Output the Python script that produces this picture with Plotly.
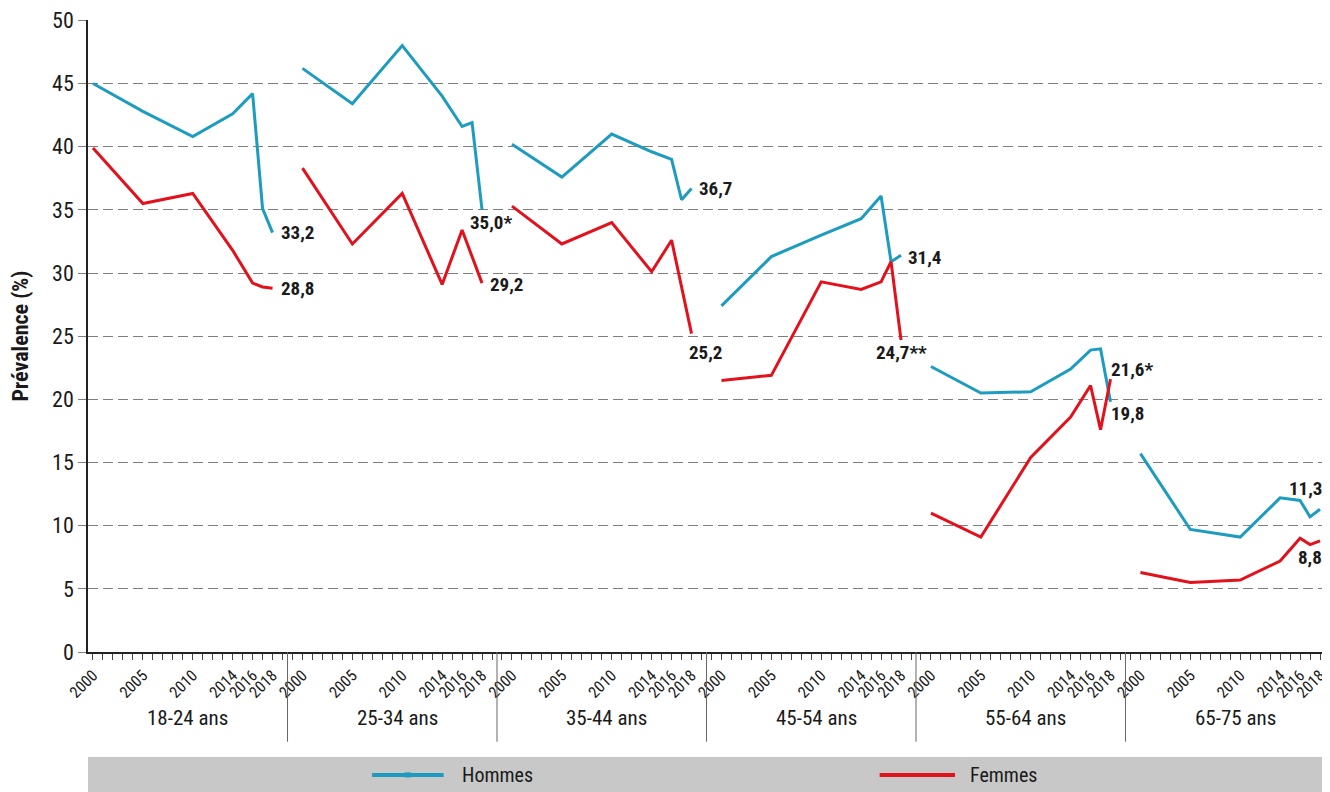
import plotly.graph_objects as go

# ---------------- data ----------------
groups = ["18-24 ans", "25-34 ans", "35-44 ans", "45-54 ans", "55-64 ans", "65-75 ans"]
years = [2000, 2005, 2010, 2014, 2016, 2017, 2018]
tick_years = [2000, 2005, 2010, 2014, 2016, 2018]

hommes_18_24 = [45.0, 42.8, 40.8, 42.6, 44.2, 35.1, 33.2]
hommes_25_34 = [46.2, 43.4, 48.0, 44.0, 41.6, 41.9, 35.0]
hommes_35_44 = [40.2, 37.6, 41.0, 39.6, 39.0, 35.8, 36.7]
hommes_45_54 = [27.4, 31.3, 33.0, 34.3, 36.1, 30.9, 31.4]
hommes_55_64 = [22.6, 20.5, 20.6, 22.4, 23.9, 24.0, 19.8]
hommes_65_75 = [15.7, 9.7, 9.1, 12.2, 12.0, 10.7, 11.3]

femmes_18_24 = [39.9, 35.5, 36.3, 31.8, 29.2, 28.9, 28.8]
femmes_25_34 = [38.3, 32.3, 36.3, 29.1, 33.4, 31.3, 29.2]
femmes_35_44 = [35.3, 32.3, 34.0, 30.1, 32.6, 28.9, 25.2]
femmes_45_54 = [21.5, 21.9, 29.3, 28.7, 29.3, 30.9, 24.7]
femmes_55_64 = [11.0, 9.1, 15.4, 18.6, 21.1, 17.6, 21.6]
femmes_65_75 = [6.3, 5.5, 5.7, 7.2, 9.0, 8.5, 8.8]

hommes_labels = ["33,2", "35,0*", "36,7", "31,4", "19,8", "11,3"]
femmes_labels = ["28,8", "29,2", "25,2", "24,7**", "21,6*", "8,8"]

hommes = [hommes_18_24, hommes_25_34, hommes_35_44, hommes_45_54, hommes_55_64, hommes_65_75]
femmes = [femmes_18_24, femmes_25_34, femmes_35_44, femmes_45_54, femmes_55_64, femmes_65_75]

# ---------------- styling ----------------
FONT = "Liberation Sans Narrow, Arial Narrow, Roboto Condensed, Liberation Sans, sans-serif"
TEAL = "#1d9cc0"
RED = "#e3111b"
STEP = 21  # slots per age group on the x scale


def xpos(g, year):
    return g * STEP + (year - 2000)


def build(series):
    xs, ys = [], []
    for g, vals in enumerate(series):
        for yr, v in zip(years, vals):
            xs.append(xpos(g, yr))
            ys.append(v)
        xs.append(None)
        ys.append(None)
    return xs, ys


fig = go.Figure()
hx, hy = build(hommes)
fx, fy = build(femmes)
fig.add_trace(go.Scatter(x=hx, y=hy, mode="lines", name="Hommes",
                         line=dict(color=TEAL, width=3), showlegend=False))
fig.add_trace(go.Scatter(x=fx, y=fy, mode="lines", name="Femmes",
                         line=dict(color=RED, width=3), showlegend=False))

# end-value labels (offsets in px)
h_off = [("left", 6, 0), ("center", 9, -13), ("left", 5, 0), ("left", 5, -2), ("left", -2, -12), ("right", 4, 21)]
f_off = [("left", 6, 0), ("left", 6, -1), ("center", 14, -19), ("center", 0, -13), ("left", -2, 10), ("right", 4, -17)]
ann = []
for g in range(len(groups)):
    for series, labels, offs in ((hommes, hommes_labels, h_off), (femmes, femmes_labels, f_off)):
        xa, xs_, ys_ = offs[g]
        ann.append(dict(x=xpos(g, years[-1]), y=series[g][-1], xref="x", yref="y",
                        text="<b>%s</b>" % labels[g], showarrow=False,
                        xanchor=xa, yanchor="middle", xshift=xs_, yshift=ys_,
                        font=dict(family=FONT, size=19, color="#1a1a1a")))

# group labels
for g, name in enumerate(groups):
    ann.append(dict(x=g * STEP + 9.5, y=-0.104, xref="x", yref="paper", text=name,
                    showarrow=False, xanchor="center", yanchor="middle",
                    font=dict(family=FONT, size=21, color="#1a1a1a")))

shapes = []
# group separators below the axis
for g in range(1, len(groups)):
    b = g * STEP - 1.5
    shapes.append(dict(type="line", xref="x", yref="paper", x0=b, x1=b, y0=0, y1=-0.142,
                       line=dict(color="#666666", width=1)))

# legend band
shapes.append(dict(type="rect", xref="paper", yref="paper", x0=0, x1=1.002, y0=-0.166, y1=-0.225,
                   fillcolor="#c8c8c8", line=dict(width=0), layer="below"))
shapes.append(dict(type="line", xref="paper", yref="paper", x0=0.230, x1=0.288, y0=-0.1946, y1=-0.1946,
                   line=dict(color=TEAL, width=4)))
shapes.append(dict(type="rect", xref="paper", yref="paper", x0=0.2565, x1=0.2615, y0=-0.1905, y1=-0.1985,
                   fillcolor=TEAL, line=dict(width=0)))
shapes.append(dict(type="line", xref="paper", yref="paper", x0=0.641, x1=0.702, y0=-0.1946, y1=-0.1946,
                   line=dict(color=RED, width=4)))
ann.append(dict(x=0.301, y=-0.1946, xref="paper", yref="paper", text="Hommes", showarrow=False,
                xanchor="left", yanchor="middle", font=dict(family=FONT, size=20, color="#1a1a1a")))
ann.append(dict(x=0.7126, y=-0.1946, xref="paper", yref="paper", text="Femmes", showarrow=False,
                xanchor="left", yanchor="middle", font=dict(family=FONT, size=20, color="#1a1a1a")))

# x ticks: every slot, labelled at selected years
tickvals, ticktext = [], []
for p in range(0, len(groups) * STEP - 2):
    tickvals.append(p)
    g, off = divmod(p, STEP)
    yr = 2000 + off
    ticktext.append(str(yr) if yr in tick_years else "")

# page body has an 8px margin: figure is sized so it ends at the window edge
fig.update_layout(
    width=1322, height=784,
    margin=dict(l=80, r=7, t=12, b=140),
    paper_bgcolor="white", plot_bgcolor="white",
    font=dict(family=FONT, color="#1a1a1a"),
    annotations=ann, shapes=shapes,
    xaxis=dict(range=[-0.5, 123.3], tickmode="array", tickvals=tickvals, ticktext=ticktext,
               tickangle=-45, tickfont=dict(family=FONT, size=16, color="#1a1a1a"),
               ticks="outside", ticklen=6, tickcolor="#444", showgrid=False, automargin=False,
               showline=True, linecolor="#222", linewidth=1.5, zeroline=False),
    yaxis=dict(range=[0, 50.03], tickmode="array", tickvals=list(range(0, 51, 5)), automargin=False,
               tickfont=dict(family=FONT, size=22, color="#1a1a1a"),
               showgrid=True, gridcolor="#7f7f7f", griddash="10px,5px", gridwidth=1.2,
               ticks="outside", ticklen=8, tickcolor="#7f7f7f",
               showline=True, linecolor="#222", linewidth=1.5, mirror=True, zeroline=False,
               title=dict(text="<b>Prévalence (%)</b>", font=dict(family=FONT, size=22), standoff=26)),
)

fig.write_html("out.html")
